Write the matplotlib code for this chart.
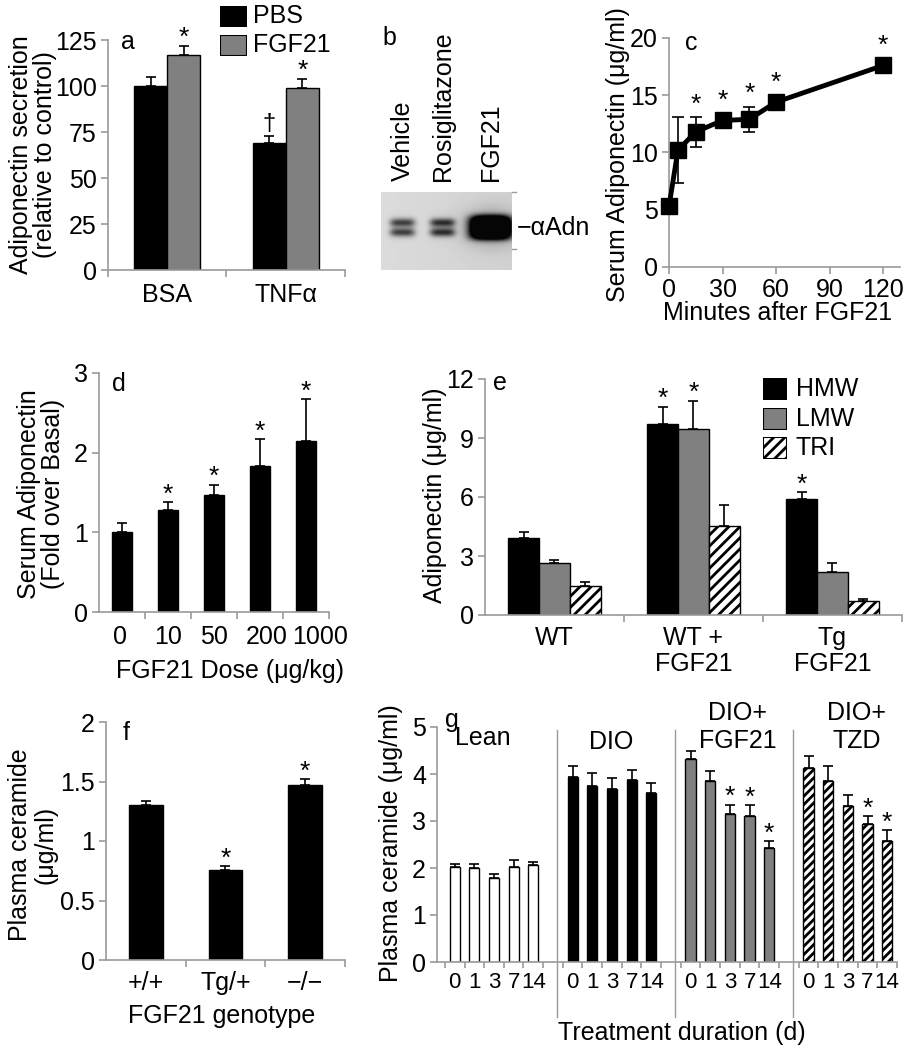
import numpy as np
import matplotlib
matplotlib.use('Agg')
import matplotlib.pyplot as plt
import matplotlib.transforms as mtransforms

plt.rcParams['font.family'] = ['Liberation Sans', 'DejaVu Sans']
plt.rcParams['hatch.linewidth'] = 2.0
plt.rcParams['hatch.color'] = 'black'

W, H = 912, 1050
GRAY = '#808080'
AX_GRAY = '#9a9a9a'
FS = 18      # tick labels
LFS = 18     # axis labels

# ---- panel a: adiponectin secretion ----
a_groups = ['BSA', 'TNF\u03b1']
a_pbs = [100, 69]
a_pbs_err = [5, 4]
a_fgf = [117, 99]
a_fgf_err = [5, 5]

# ---- panel b: western blot lanes ----
b_lanes = ['Vehicle', 'Rosiglitazone', 'FGF21']
b_lane_x = [21, 61, 109]          # lane centre inside blot (px)
b_strength = [0.5, 0.55, 1.0]

# ---- panel c: time course ----
c_min = [0, 5, 15, 30, 45, 60, 120]
c_val = [5.3, 10.2, 11.8, 12.8, 12.9, 14.4, 17.6]
c_err = [0.2, 2.9, 1.3, 0.3, 1.1, 0.3, 0.4]
c_star = [False, False, True, True, True, True, True]

# ---- panel d: dose response ----
d_dose = ['0', '10', '50', '200', '1000']
d_val = [1.0, 1.28, 1.47, 1.83, 2.15]
d_err = [0.12, 0.1, 0.13, 0.34, 0.52]
d_star = [False, True, True, True, True]

# ---- panel e: adiponectin multimers ----
e_groups = ['WT', 'WT +\nFGF21', 'Tg\nFGF21']
e_series = ['HMW', 'LMW', 'TRI']
e_val = {'HMW': [3.9, 9.7, 5.9], 'LMW': [2.65, 9.45, 2.2], 'TRI': [1.5, 4.55, 0.7]}
e_err = {'HMW': [0.3, 0.9, 0.35], 'LMW': [0.15, 1.45, 0.45], 'TRI': [0.2, 1.05, 0.1]}
e_star = {'HMW': [False, True, True], 'LMW': [False, True, False], 'TRI': [False, False, False]}

# ---- panel f: genotype ceramide ----
f_geno = ['+/+', 'Tg/+', '\u2212/\u2212']
f_val = [1.3, 0.76, 1.47]
f_err = [0.04, 0.03, 0.05]
f_star = [False, True, True]

# ---- panel g: ceramide over treatment ----
g_groups = ['Lean', 'DIO', 'DIO+\nFGF21', 'DIO+\nTZD']
g_days = ['0', '1', '3', '7', '14']
g_val = [[2.02, 2.0, 1.78, 2.03, 2.07],
         [3.93, 3.75, 3.68, 3.88, 3.6],
         [4.32, 3.85, 3.15, 3.1, 2.42],
         [4.13, 3.85, 3.32, 2.93, 2.58]]
g_err = [[0.06, 0.08, 0.1, 0.14, 0.06],
         [0.24, 0.27, 0.24, 0.21, 0.21],
         [0.18, 0.22, 0.2, 0.23, 0.15],
         [0.25, 0.32, 0.23, 0.18, 0.22]]
g_star = [[False] * 5, [False] * 5,
          [False, False, True, True, True],
          [False, False, False, True, True]]


fig = plt.figure(figsize=(W / 100, H / 100), dpi=100)


def add_ax(l, t, r, b):
    return fig.add_axes([l / W, 1 - b / H, (r - l) / W, (b - t) / H])


def ptext(x, y, s, **kw):
    kw.setdefault('fontsize', LFS)
    kw.setdefault('ha', 'center')
    kw.setdefault('va', 'center')
    return fig.text(x / W, 1 - y / H, s, **kw)


def style(ax):
    for s in ['top', 'right']:
        ax.spines[s].set_visible(False)
    for s in ['left', 'bottom']:
        ax.spines[s].set_color(AX_GRAY)
        ax.spines[s].set_linewidth(1.2)
    ax.tick_params(axis='both', which='both', colors=AX_GRAY, labelcolor='black',
                   labelsize=FS, length=5, width=1.2, direction='out', pad=3)


def bars(ax, x, v, e, width, color, hatch=None, stars=None, ymax=1.0):
    ax.bar(x, v, width, color=color, edgecolor='black', linewidth=1, hatch=hatch, zorder=2)
    ax.errorbar(x, v, yerr=[np.zeros(len(e)), e], fmt='none', ecolor='black',
                elinewidth=1.2, capsize=3.5, capthick=1.2, zorder=3)
    if stars is not None:
        for xi, vi, ei, s in zip(x, v, e, stars):
            if s:
                ax.text(xi, vi + ei - 0.02 * ymax, '*', ha='center', va='bottom',
                        fontsize=19, zorder=4)


def letter(ax, x, y, s):
    ax.text(x, y, s, transform=ax.transAxes, fontsize=FS, ha='left', va='center')


def legend_box(x, y, w, h, col, hat=None):
    ax_l = add_ax(x, y, x + w, y + h)
    ax_l.add_patch(plt.Rectangle((0, 0), 1, 1, facecolor=col, edgecolor='black', lw=1.5,
                                 hatch=hat))
    ax_l.set_axis_off()


# ===== panel a =====
ax = add_ax(108, 40, 345, 270)
style(ax)
xa = np.arange(len(a_groups)) + 0.5
bw = 0.28
bars(ax, xa - bw / 2, a_pbs, a_pbs_err, bw, 'black', ymax=125)
bars(ax, xa + bw / 2, a_fgf, a_fgf_err, bw, GRAY, stars=[True, True], ymax=125)
ax.text(xa[1] - bw / 2, a_pbs[1] + a_pbs_err[1] + 0.5, '\u2020', ha='center', va='bottom',
        fontsize=17)
ax.set_xlim(0, 2)
ax.set_ylim(0, 125)
ax.set_yticks(range(0, 126, 25))
ax.set_xticks(xa, a_groups)
ax.set_xticks([0, 1, 2], minor=True)
ax.tick_params(axis='x', which='major', length=0, pad=9)
letter(ax, 0.055, 0.99, 'a')
ptext(33, 155, 'Adiponectin secretion\n(relative to control)', rotation=90, linespacing=1.05)
for i, (lab, col) in enumerate([('PBS', 'black'), ('FGF21', GRAY)]):
    legend_box(220, 6 + i * 29, 27, 21, col)
    ptext(253, 16 + i * 29, lab, ha='left')

# ===== panel b =====
axb = add_ax(381, 192, 512, 270)
rows, cols = 78, 131
yy, xx = np.mgrid[0:rows, 0:cols]
img = np.full((rows, cols), 0.86) - 0.04 * (xx / cols)
for i, (cx, st) in enumerate(zip(b_lane_x, b_strength)):
    if i < 2:
        prof_x = np.exp(-((xx - cx) / 12.5) ** 4)
        dark = st * prof_x * (np.exp(-((yy - 30) / 4.0) ** 2) + np.exp(-((yy - 40) / 4.0) ** 2))
        dark += 0.3 * st * prof_x * np.exp(-((yy - 35) / 9.0) ** 2)
    else:
        prof_x = np.exp(-((xx - cx) / 21.0) ** 4)
        dark = 1.5 * st * prof_x * np.exp(-((yy - 35) / 12.0) ** 4)
        dark += 0.3 * np.exp(-((xx - cx) / 26.0) ** 2) * np.exp(-((yy - 35) / 18.0) ** 2)
    img = img - dark
img = np.clip(img, 0.02, 1)
axb.imshow(img, cmap='gray', vmin=0, vmax=1, aspect='auto', interpolation='bicubic')
axb.set_axis_off()
for lab, cx in zip(b_lanes, b_lane_x):
    ptext(381 + cx + 1, 181, lab, rotation=90, va='bottom', fontsize=FS)
ptext(389, 38, 'b', fontsize=FS)
ptext(517, 228, '\u2212\u03b1Adn', ha='left')
fig.add_artist(plt.Line2D([512 / W, 516 / W], [1 - 192 / H] * 2, color=AX_GRAY, lw=1))
fig.add_artist(plt.Line2D([512 / W, 516 / W], [1 - 249 / H] * 2, color=AX_GRAY, lw=1))

# ===== panel c =====
ax = add_ax(669, 38, 900, 267)
style(ax)
ax.errorbar(c_min, c_val, yerr=c_err, color='black', lw=3.5, marker='s', markersize=12,
            ecolor='black', elinewidth=1.2, capsize=4, capthick=1.2, zorder=3, clip_on=False)
for x, v, e, s in zip(c_min, c_val, c_err, c_star):
    if s:
        ax.text(x, v + max(e, 0.6) + 0.05, '*', ha='center', va='bottom', fontsize=19)
ax.set_xlim(0, 129.5)
ax.set_ylim(0, 20)
ax.set_xticks(range(0, 121, 30))
ax.set_yticks(range(0, 21, 5))
letter(ax, 0.07, 0.98, 'c')
ptext(618, 155, 'Serum Adiponectin (\u03bcg/ml)', rotation=90)
ptext(778, 313, 'Minutes after FGF21')

# ===== panel d =====
ax = add_ax(99, 373, 329, 612)
style(ax)
xd = np.arange(len(d_dose))
bars(ax, xd, d_val, d_err, 0.44, 'black', stars=d_star, ymax=3)
ax.set_xlim(-0.5, 4.5)
ax.set_ylim(0, 3)
ax.set_yticks([0, 1, 2, 3])
# the two long labels sit a little right of their bars, as in the original
ax.set_xticks(xd + np.array([-0.05, 0, 0, 0.15, 0.3]), d_dose)
ax.set_xticks(list(xd + 0.5), minor=True)
ax.tick_params(axis='x', which='major', length=0, pad=9)
letter(ax, 0.055, 0.955, 'd')
ptext(41, 494, 'Serum Adiponectin\n(Fold over Basal)', rotation=90, linespacing=1.05)
ptext(230, 671, 'FGF21 Dose (\u03bcg/kg)')

# ===== panel e =====
ax = add_ax(485, 379, 902, 615)
style(ax)
xe = np.arange(len(e_groups)) + 0.5
ew = 0.223
e_look = [('HMW', 'black', None), ('LMW', GRAY, None), ('TRI', 'white', '///')]
for k, (name, col, hat) in enumerate(e_look):
    bars(ax, xe + (k - 1) * ew, e_val[name], e_err[name], ew, col, hatch=hat,
         stars=e_star[name], ymax=12)
ax.set_xlim(0, 3)
ax.set_ylim(0, 12)
ax.set_yticks([0, 3, 6, 9, 12])
ax.set_xticks([])
ax.set_xticks([1, 2, 3], minor=True)
letter(ax, 0.02, 0.985, 'e')
for x, lab in zip(xe, e_groups):
    ax.text(x, -0.045, lab, transform=ax.get_xaxis_transform(), ha='center', va='top',
            fontsize=FS, linespacing=1.15)
ptext(435, 495, 'Adiponectin (\u03bcg/ml)', rotation=90)
for i, (lab, col, hat) in enumerate(e_look):
    legend_box(763, 378 + i * 29.5, 24, 22, col, hat)
    ptext(796, 389 + i * 29.5, lab, ha='left')

# ===== panel f =====
ax = add_ax(106, 722, 345, 960)
style(ax)
xf = np.arange(len(f_geno)) + 0.5
bars(ax, xf, f_val, f_err, 0.42, 'black', stars=f_star, ymax=2)
ax.set_xlim(0, 3)
ax.set_ylim(0, 2)
ax.set_yticks([0, 0.5, 1, 1.5, 2], ['0', '0.5', '1', '1.5', '2'])
ax.set_xticks(xf, f_geno)
ax.set_xticks([1, 2, 3], minor=True)
ax.tick_params(axis='x', which='major', length=0, pad=8)
letter(ax, 0.07, 0.955, 'f')
ptext(33, 845, 'Plasma ceramide\n(\u03bcg/ml)', rotation=90, linespacing=1.1)
ptext(222, 1016, 'FGF21 genotype')

# ===== panel g =====
ax = add_ax(437, 727, 897, 962)
style(ax)
g_styles = [('white', None), ('black', None), (GRAY, None), ('white', '////')]
xg_all, lab_all = [], []
for gi, (col, hat) in enumerate(g_styles):
    xg = gi * 6 + np.arange(len(g_days))
    bars(ax, xg, g_val[gi], g_err[gi], 0.52, col, hatch=hat, stars=g_star[gi], ymax=5)
    xg_all += list(xg)
    lab_all += g_days
ax.set_xlim(-0.9, 22.2)
ax.set_ylim(0, 5)
ax.set_yticks(range(0, 6))
ax.set_xticks(xg_all, lab_all)
ax.set_xticks([x + 0.5 for x in xg_all] + [-0.5, 5.5, 11.5, 17.5], minor=True)
ax.tick_params(axis='x', which='major', length=0, pad=7, labelsize=16)
ax.tick_params(axis='x', which='minor', length=4)
tr = mtransforms.blended_transform_factory(ax.transData, ax.transAxes)
for gi in range(1, 4):
    ax.plot([gi * 6 - 0.8] * 2, [-0.234, 0.987], transform=tr, color=AX_GRAY, lw=1,
            clip_on=False)
g_label_px = [(483, 738), (611, 742), (738, 727), (857, 727)]
for lab, (px, py) in zip(g_groups, g_label_px):
    ptext(px, py, lab, linespacing=1.2)
ptext(452, 720, 'g', fontsize=FS)
ptext(391, 843, 'Plasma ceramide (\u03bcg/ml)', rotation=90)
ptext(682, 1033, 'Treatment duration (d)')

fig.savefig('out.png', dpi=100)
